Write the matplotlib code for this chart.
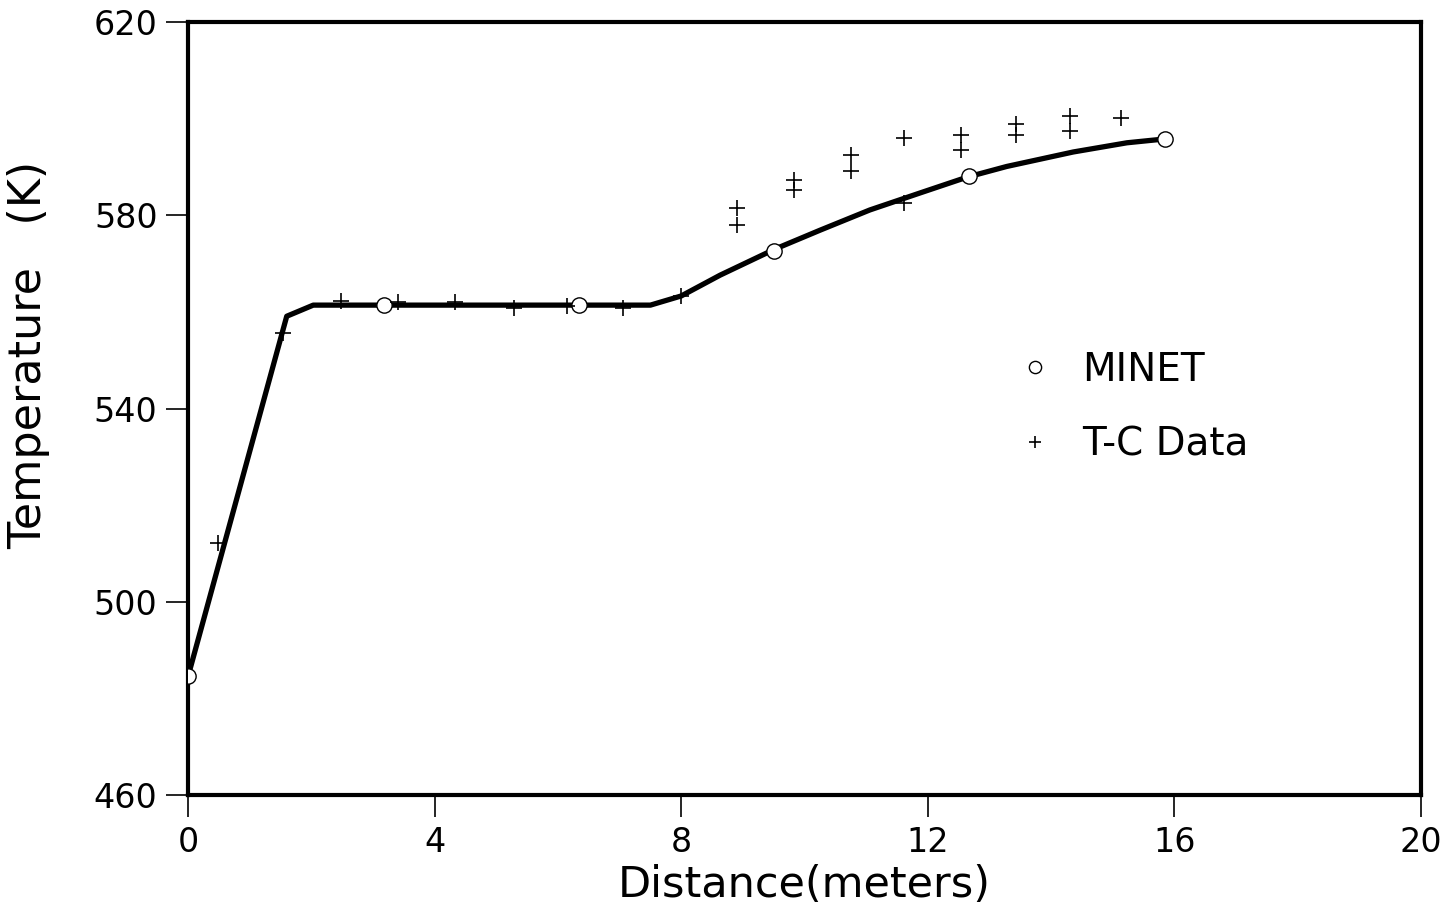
import numpy as np
import matplotlib
matplotlib.use("Agg")
import matplotlib.pyplot as plt

# MINET calculation (solid curve)
line_x = [0.0, 1.6, 2.03, 7.5, 8.0, 8.63, 9.52, 10.25, 11.06, 11.87,
          12.64, 13.28, 14.36, 15.23, 15.85]
line_t = [484.6, 559.1, 561.4, 561.4, 563.3, 567.6, 573.0, 576.9, 581.1, 584.6,
          587.9, 590.1, 593.1, 595.0, 595.8]

# MINET markers
minet_x = [0.0, 3.18, 6.34, 9.5, 12.67, 15.85]
minet_t = [484.6, 561.4, 561.4, 572.6, 588.1, 595.8]

# thermocouple data
tc_x = [0.49, 1.54, 2.48, 3.41, 4.33, 5.29, 6.15, 7.06, 8.0,
        8.9, 8.9, 9.83, 9.83, 10.75, 10.75, 11.61, 11.61,
        12.54, 12.54, 13.43, 13.43, 14.31, 14.31, 15.13]
tc_t = [512.2, 555.6, 562.2, 562.0, 562.0, 560.8, 561.2, 560.8, 563.3,
        581.5, 578.0, 587.3, 585.2, 592.5, 589.2, 596.0, 582.5,
        596.6, 593.5, 598.9, 596.6, 600.5, 597.4, 600.1]

x_ticks = [0, 4, 8, 12, 16, 20]
y_ticks = [460, 500, 540, 580, 620]

fig = plt.figure(figsize=(14.47, 9.13), dpi=100)
ax = fig.add_axes([0.13, 0.1292, 0.852, 0.8467])

ax.plot(line_x, line_t, color="black", lw=3.8, zorder=2)
ax.plot(minet_x, minet_t, ls="none", marker="o", ms=11, mfc="white",
        mec="black", mew=1.0, label="MINET", zorder=3)
ax.plot(tc_x, tc_t, ls="none", marker="+", ms=11, color="black",
        mew=1.2, label="T-C Data", zorder=3)

ax.set_xlim(0, 20)
ax.set_ylim(460, 620)
ax.set_xticks(x_ticks)
ax.set_yticks(y_ticks)
ax.tick_params(direction="out", length=16, width=1.2, labelsize=24, pad=6)

for sp in ax.spines.values():
    sp.set_linewidth(3)

ax.set_xlabel("Distance(meters)", fontsize=31, labelpad=4)
ax.set_ylabel("Temperature   (K)", fontsize=32)
ax.yaxis.set_label_coords(-0.112, 0.569)

leg = ax.legend(loc="upper left", bbox_to_anchor=(0.64, 0.62), frameon=False,
                fontsize=28, handlelength=1.2, handletextpad=0.6,
                labelspacing=0.95, markerscale=0.8)

fig.savefig("out.png", dpi=100)
